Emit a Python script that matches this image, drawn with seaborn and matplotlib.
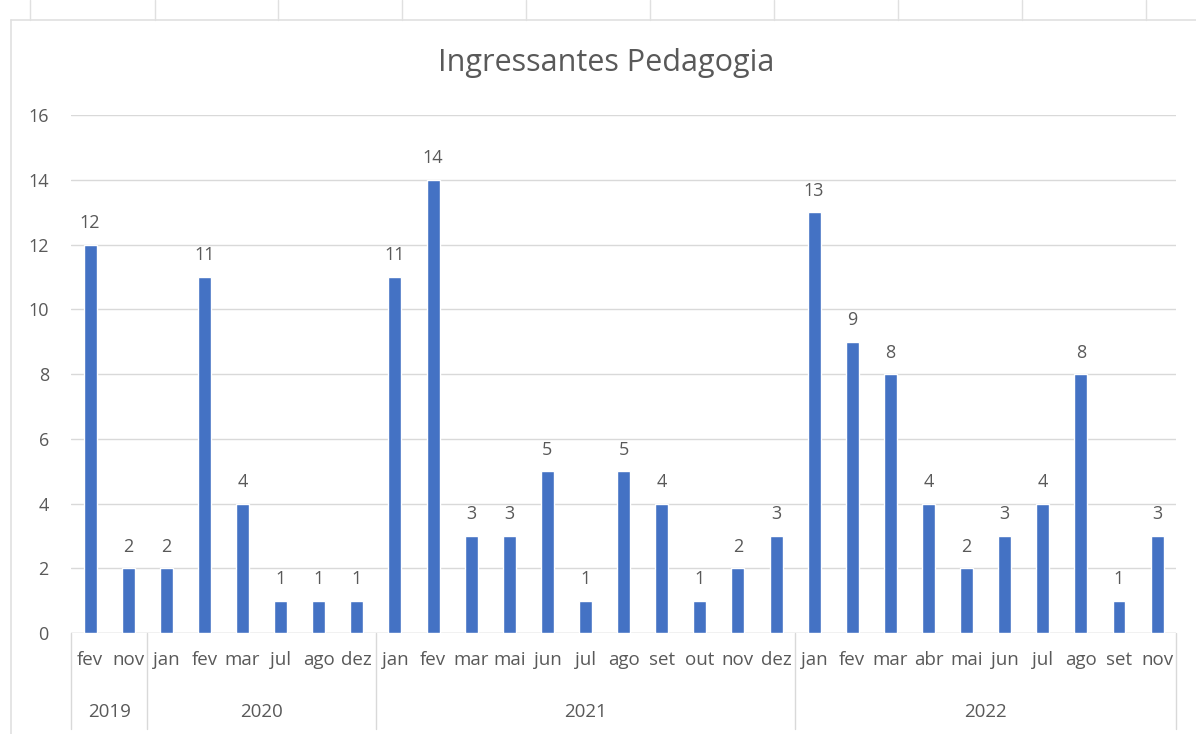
import numpy as np
import pandas as pd
import matplotlib.pyplot as plt
from matplotlib.lines import Line2D
import matplotlib.transforms as mtransforms
import seaborn as sns

# dados
anos = ["2019", "2020", "2021", "2022"]
meses_2019 = ["fev", "nov"]
meses_2020 = ["jan", "fev", "mar", "jul", "ago", "dez"]
meses_2021 = ["jan", "fev", "mar", "mai", "jun", "jul", "ago", "set", "out", "nov", "dez"]
meses_2022 = ["jan", "fev", "mar", "abr", "mai", "jun", "jul", "ago", "set", "nov"]
valores_2019 = [12, 2]
valores_2020 = [2, 11, 4, 1, 1, 1]
valores_2021 = [11, 14, 3, 3, 5, 1, 5, 4, 1, 2, 3]
valores_2022 = [13, 9, 8, 4, 2, 3, 4, 8, 1, 3]

meses_por_ano = [meses_2019, meses_2020, meses_2021, meses_2022]
valores_por_ano = [valores_2019, valores_2020, valores_2021, valores_2022]

linhas = []
for ano, ms, vs in zip(anos, meses_por_ano, valores_por_ano):
    for m, v in zip(ms, vs):
        linhas.append({"ano": ano, "mes": m, "valor": v})
df = pd.DataFrame(linhas)
df["id"] = [f"{a}-{i}" for i, a in enumerate(df["ano"])]

cor_barra = "#4472C4"
cor_texto = "#595959"
cor_grade = "#D9D9D9"

sns.set_style("white")
plt.rcParams["font.family"] = ["Open Sans", "DejaVu Sans"]

fig = plt.figure(figsize=(11.96, 7.34), dpi=100)
ax = fig.add_axes([0.0594, 0.1376, 0.924, 0.7057])

sns.barplot(data=df, x="id", y="valor", color=cor_barra, width=0.34,
            saturation=1, ax=ax, order=list(df["id"]))

ax.set_ylim(0, 16)
ax.set_xlim(-0.5, len(df) - 0.5)
ax.set_yticks(range(0, 17, 2))
ax.yaxis.grid(True, color=cor_grade, linewidth=1)
ax.set_axisbelow(True)
for s in ax.spines.values():
    s.set_visible(False)
ax.axhline(0, color=cor_grade, linewidth=1, zorder=0)

ax.set_xlabel("")
ax.set_ylabel("")
ax.set_xticks(range(len(df)))
ax.set_xticklabels(df["mes"], fontsize=13.5, color=cor_texto)
ax.tick_params(axis="x", length=0, pad=13)
ax.tick_params(axis="y", length=0, pad=16, labelsize=13, labelcolor=cor_texto)

# rótulos de dados
for c in ax.containers:
    ax.bar_label(c, fontsize=13, color=cor_texto, padding=9)

# eixo de categorias em dois níveis
trans = mtransforms.blended_transform_factory(ax.transData, ax.transAxes)
limites = np.cumsum([0] + [len(m) for m in meses_por_ano]) - 0.5
for b in limites:
    ax.add_line(Line2D([b, b], [0, -0.185], transform=trans, color=cor_grade,
                       linewidth=1, clip_on=False))
for ano, a, b in zip(anos, limites[:-1], limites[1:]):
    ax.text((a + b) / 2, -0.153, ano, transform=trans, ha="center", va="center",
            fontsize=13.5, color=cor_texto)

fig.text(0.507, 0.914, "Ingressantes Pedagogia", ha="center", va="center",
         fontsize=22, color=cor_texto)

# bordas da planilha
fig.add_artist(Line2D([0.009, 1.0], [0.973, 0.973], color="#E0E0E0", linewidth=1.2))
fig.add_artist(Line2D([0.009, 0.009], [0.0, 0.973], color="#E0E0E0", linewidth=1.2))
for x in [30, 155, 278, 402, 526, 650, 774, 898, 1022, 1146]:
    fig.add_artist(Line2D([x / 1196, x / 1196], [0.973, 1.0], color="#E0E0E0", linewidth=1))

fig.savefig("out.png", dpi=100)
